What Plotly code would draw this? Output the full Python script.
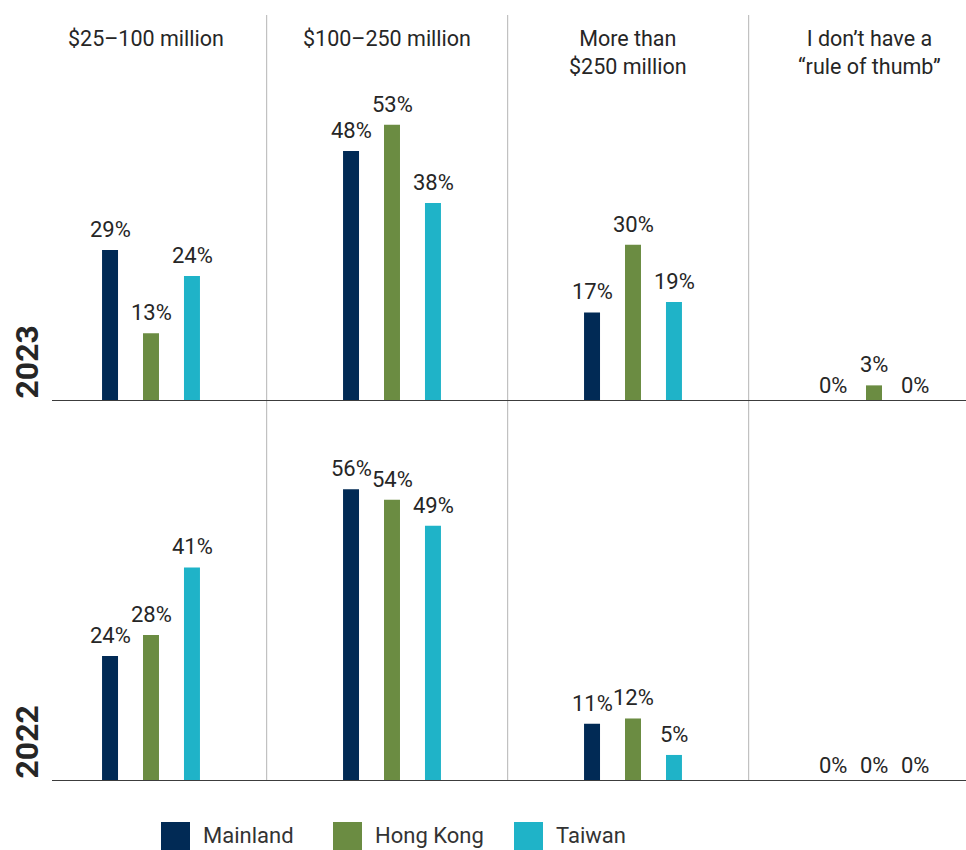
import plotly.graph_objects as go

# ---- data -------------------------------------------------------------
panels = ["$25–100 million", "$100–250 million", "More than $250 million", "No rule of thumb"]
panel_titles = ["$25–100 million", "$100–250 million",
                "More than<br>$250 million", "I don’t have a<br>“rule of thumb”"]
years = ["2023", "2022"]
series = ["Mainland", "Hong Kong", "Taiwan"]
colors = ["#012a55", "#6b8c42", "#1fb3c8"]

mainland_2023 = [29, 48, 17, 0]
hongkong_2023 = [13, 53, 30, 3]
taiwan_2023 = [24, 38, 19, 0]

mainland_2022 = [24, 56, 11, 0]
hongkong_2022 = [28, 54, 12, 0]
taiwan_2022 = [41, 49, 5, 0]

rows = [
    [mainland_2023, hongkong_2023, taiwan_2023],
    [mainland_2022, hongkong_2022, taiwan_2022],
]

# ---- geometry (pixels) -------------------------------------------------
W, H = 966, 850
LEFT = 52            # left edge of plotting area
BASE1, BASE2 = 401, 781   # baselines of the two rows
PX_PER_PCT = 5.21
PANEL_PX = 241
FIRST_CENTER = 151
BAR_STEP = 41        # distance between bar centres inside a group

FONT = "Roboto, Liberation Sans, sans-serif"
TEXT = "#262626"


def px_x(px):
    return (px - LEFT) / (W - LEFT)


def px_y(py):
    return (BASE2 - py) / BASE2


x_lo = (LEFT - FIRST_CENTER) / PANEL_PX
x_hi = (W - FIRST_CENTER) / PANEL_PX

fig = go.Figure()
axes = [("x", "y"), ("x2", "y2")]
for r, row in enumerate(rows):
    xa, ya = axes[r]
    for s, vals in enumerate(row):
        fig.add_trace(go.Bar(
            x=panels, y=vals, name=series[s], marker_color=colors[s],
            marker_line_width=0, xaxis=xa, yaxis=ya, showlegend=False,
            hoverinfo="skip",
        ))

annotations = []
shapes = []

# value labels
for r, row in enumerate(rows):
    ya = "y" if r == 0 else "y2"
    xa = "x" if r == 0 else "x2"
    for s, vals in enumerate(row):
        for i, v in enumerate(vals):
            annotations.append(dict(
                x=panels[i], xref=xa, y=v, yref=ya,
                xshift=(s - 1) * BAR_STEP, yshift=6 if v > 0 else 1,
                text=f"{v}%", showarrow=False, xanchor="center", yanchor="bottom",
                font=dict(family=FONT, size=22, color=TEXT),
            ))

# panel titles
for i, t in enumerate(panel_titles):
    annotations.append(dict(
        x=panels[i], xref="x", y=px_y(24), yref="paper", xshift=-5,
        text=t, showarrow=False, xanchor="center", yanchor="top", align="center",
        font=dict(family=FONT, size=21.5, color=TEXT),
    ))

# year labels
for r, yr in enumerate(years):
    annotations.append(dict(
        x=px_x(26), xref="paper", y=0, yref="y" if r == 0 else "y2",
        text=f"<b>{yr}</b>", showarrow=False, textangle=-90,
        xanchor="center", yanchor="bottom",
        font=dict(family=FONT, size=32, color=TEXT),
    ))

# panel separators
for i in range(1, len(panels)):
    sx = i - 0.52
    shapes.append(dict(type="line", xref="x", x0=sx, x1=sx, yref="paper",
                       y0=0, y1=px_y(15), line=dict(color="#b4b4b4", width=1)))

# row baselines
for ya in ["y", "y2"]:
    shapes.append(dict(type="line", xref="paper", x0=0, x1=1, yref=ya,
                       y0=0, y1=0, line=dict(color="#3c3c3c", width=2)))

# legend
legend_sq_left = [161, 333, 514]
for s, name in enumerate(series):
    x0 = legend_sq_left[s]
    shapes.append(dict(type="rect", xref="paper", yref="paper",
                       x0=px_x(x0), x1=px_x(x0 + 29), y0=px_y(822), y1=px_y(851),
                       fillcolor=colors[s], line=dict(width=0)))
    annotations.append(dict(
        x=px_x(x0 + 40), xref="paper", y=px_y(836), yref="paper",
        text=name, showarrow=False, xanchor="left", yanchor="middle",
        font=dict(family=FONT, size=22, color="#333333"),
    ))

fig.update_layout(
    width=W, height=H,
    margin=dict(l=LEFT, r=0, t=0, b=H - BASE2, pad=0),
    paper_bgcolor="white", plot_bgcolor="white",
    barmode="group", bargap=0.49, bargroupgap=0.61,
    showlegend=False,
    xaxis=dict(anchor="y", range=[x_lo, x_hi], visible=False, type="category",
               categoryorder="array", categoryarray=panels),
    xaxis2=dict(anchor="y2", range=[x_lo, x_hi], visible=False, type="category",
                categoryorder="array", categoryarray=panels, matches="x"),
    yaxis=dict(domain=[px_y(BASE1), 1], range=[0, BASE1 / PX_PER_PCT], visible=False),
    yaxis2=dict(domain=[0, px_y(BASE1)], range=[0, (BASE2 - BASE1) / PX_PER_PCT], visible=False),
    annotations=annotations,
    shapes=shapes,
)

fig.write_html("out.html")
